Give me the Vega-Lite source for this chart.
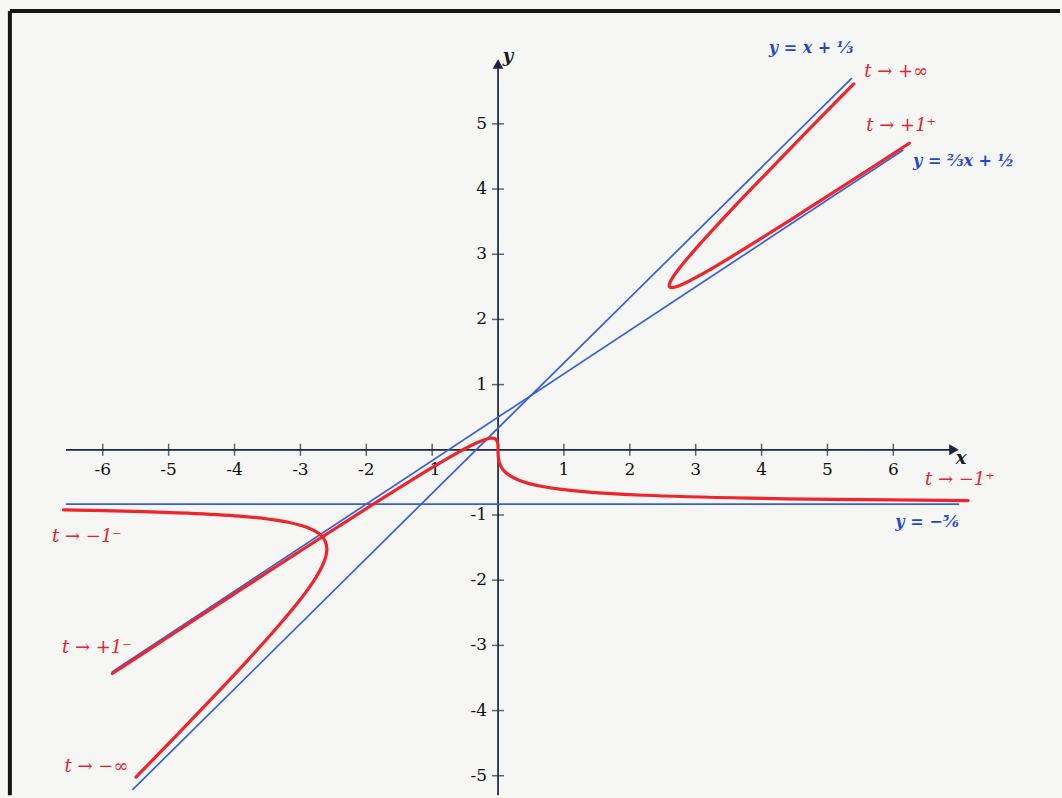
{
  "$schema": "https://vega.github.io/schema/vega-lite/v6.json",
  "width": 1062,
  "height": 798,
  "autosize": {"type": "fit", "contains": "padding"},
  "padding": 0,
  "background": "#f6f6f5",
  "config": {"view": {"stroke": null}},
  "datasets": {
    "frame": [
      {"x": -7.41, "x2": 8.53, "y": 6.73, "y2": 6.73},
      {"x": -7.41, "x2": -7.41, "y": -5.3, "y2": 6.73}
    ],
    "axes": [
      {"x": -6.56, "x2": 6.9, "y": 0, "y2": 0},
      {"x": 0, "x2": 0, "y": -5.3, "y2": 5.9}
    ],
    "arrows": [
      {"x": 6.92, "y": 0, "dir": "right"},
      {"x": 0, "y": 5.92, "dir": "up"}
    ],
    "xticks": [
      {"x": -6, "label": "-6"}, {"x": -5, "label": "-5"}, {"x": -4, "label": "-4"},
      {"x": -3, "label": "-3"}, {"x": -2, "label": "-2"}, {"x": -1, "label": "-1"},
      {"x": 1, "label": "1"}, {"x": 2, "label": "2"}, {"x": 3, "label": "3"},
      {"x": 4, "label": "4"}, {"x": 5, "label": "5"}, {"x": 6, "label": "6"}
    ],
    "yticks": [
      {"y": -5, "label": "-5"}, {"y": -4, "label": "-4"}, {"y": -3, "label": "-3"},
      {"y": -2, "label": "-2"}, {"y": -1, "label": "-1"},
      {"y": 1, "label": "1"}, {"y": 2, "label": "2"}, {"y": 3, "label": "3"},
      {"y": 4, "label": "4"}, {"y": 5, "label": "5"}
    ],
    "asymptotes": [
      {"line": "a", "x": -5.55, "y": -5.217},
      {"line": "a", "x": 5.37, "y": 5.703},
      {"line": "b", "x": -5.86, "y": -3.407},
      {"line": "b", "x": 6.15, "y": 4.6},
      {"line": "c", "x": -6.56, "y": -0.8333},
      {"line": "c", "x": 7.0, "y": -0.8333}
    ],
    "curve": [
      {"branch": 1, "t": -0.94, "x": 7.136, "y": -0.7785},
      {"branch": 1, "t": -0.92, "x": 5.07, "y": -0.7603},
      {"branch": 1, "t": -0.9, "x": 3.837, "y": -0.7421},
      {"branch": 1, "t": -0.85, "x": 2.213, "y": -0.6968},
      {"branch": 1, "t": -0.8, "x": 1.422, "y": -0.6519},
      {"branch": 1, "t": -0.75, "x": 0.9643, "y": -0.6071},
      {"branch": 1, "t": -0.7, "x": 0.6725, "y": -0.5627},
      {"branch": 1, "t": -0.65, "x": 0.4755, "y": -0.5187},
      {"branch": 1, "t": -0.6, "x": 0.3375, "y": -0.475},
      {"branch": 1, "t": -0.5, "x": 0.1667, "y": -0.3889},
      {"branch": 1, "t": -0.4, "x": 0.0762, "y": -0.3048},
      {"branch": 1, "t": -0.3, "x": 0.0297, "y": -0.2231},
      {"branch": 1, "t": -0.2, "x": 0.0083, "y": -0.1444},
      {"branch": 1, "t": -0.1, "x": 0.001, "y": -0.0697},
      {"branch": 1, "t": 0, "x": 0, "y": 0},
      {"branch": 1, "t": 0.1, "x": -0.001, "y": 0.063},
      {"branch": 1, "t": 0.2, "x": -0.0083, "y": 0.1167},
      {"branch": 1, "t": 0.3, "x": -0.0297, "y": 0.1571},
      {"branch": 1, "t": 0.35, "x": -0.0489, "y": 0.1705},
      {"branch": 1, "t": 0.4, "x": -0.0762, "y": 0.1778},
      {"branch": 1, "t": 0.45, "x": -0.1143, "y": 0.1773},
      {"branch": 1, "t": 0.5, "x": -0.1667, "y": 0.1667},
      {"branch": 1, "t": 0.55, "x": -0.2385, "y": 0.1426},
      {"branch": 1, "t": 0.6, "x": -0.3375, "y": 0.1},
      {"branch": 1, "t": 0.65, "x": -0.4755, "y": 0.031},
      {"branch": 1, "t": 0.7, "x": -0.6725, "y": -0.0778},
      {"branch": 1, "t": 0.75, "x": -0.9643, "y": -0.25},
      {"branch": 1, "t": 0.8, "x": -1.422, "y": -0.5333},
      {"branch": 1, "t": 0.85, "x": -2.213, "y": -1.0389},
      {"branch": 1, "t": 0.88, "x": -3.021, "y": -1.5644},
      {"branch": 1, "t": 0.9, "x": -3.837, "y": -2.1},
      {"branch": 1, "t": 0.91, "x": -4.384, "y": -2.4604},
      {"branch": 1, "t": 0.92, "x": -5.07, "y": -2.9133},
      {"branch": 1, "t": 0.929, "x": -5.854, "y": -3.432},
      {"branch": 2, "t": -5.3, "x": -5.496, "y": -5.02},
      {"branch": 2, "t": -5, "x": -5.208, "y": -4.722},
      {"branch": 2, "t": -4.5, "x": -4.734, "y": -4.227},
      {"branch": 2, "t": -4, "x": -4.267, "y": -3.733},
      {"branch": 2, "t": -3.5, "x": -3.811, "y": -3.241},
      {"branch": 2, "t": -3, "x": -3.375, "y": -2.75},
      {"branch": 2, "t": -2.5, "x": -2.976, "y": -2.262},
      {"branch": 2, "t": -2.2, "x": -2.773, "y": -1.971},
      {"branch": 2, "t": -2, "x": -2.667, "y": -1.778},
      {"branch": 2, "t": -1.85, "x": -2.614, "y": -1.634},
      {"branch": 2, "t": -1.732, "x": -2.598, "y": -1.521},
      {"branch": 2, "t": -1.6, "x": -2.626, "y": -1.395},
      {"branch": 2, "t": -1.5, "x": -2.7, "y": -1.3},
      {"branch": 2, "t": -1.4, "x": -2.858, "y": -1.206},
      {"branch": 2, "t": -1.3, "x": -3.184, "y": -1.112},
      {"branch": 2, "t": -1.25, "x": -3.472, "y": -1.065},
      {"branch": 2, "t": -1.2, "x": -3.927, "y": -1.018},
      {"branch": 2, "t": -1.15, "x": -4.716, "y": -0.972},
      {"branch": 2, "t": -1.12, "x": -5.523, "y": -0.944},
      {"branch": 2, "t": -1.095, "x": -6.597, "y": -0.921},
      {"branch": 3, "t": 1.102, "x": 6.242, "y": 4.703},
      {"branch": 3, "t": 1.12, "x": 5.523, "y": 4.231},
      {"branch": 3, "t": 1.15, "x": 4.716, "y": 3.706},
      {"branch": 3, "t": 1.2, "x": 3.927, "y": 3.2},
      {"branch": 3, "t": 1.25, "x": 3.472, "y": 2.917},
      {"branch": 3, "t": 1.3, "x": 3.184, "y": 2.744},
      {"branch": 3, "t": 1.4, "x": 2.858, "y": 2.567},
      {"branch": 3, "t": 1.5, "x": 2.7, "y": 2.5},
      {"branch": 3, "t": 1.577, "x": 2.638, "y": 2.488},
      {"branch": 3, "t": 1.65, "x": 2.608, "y": 2.496},
      {"branch": 3, "t": 1.732, "x": 2.598, "y": 2.521},
      {"branch": 3, "t": 1.85, "x": 2.614, "y": 2.576},
      {"branch": 3, "t": 2, "x": 2.667, "y": 2.667},
      {"branch": 3, "t": 2.2, "x": 2.773, "y": 2.811},
      {"branch": 3, "t": 2.5, "x": 2.976, "y": 3.056},
      {"branch": 3, "t": 3, "x": 3.375, "y": 3.5},
      {"branch": 3, "t": 3.5, "x": 3.811, "y": 3.967},
      {"branch": 3, "t": 4, "x": 4.267, "y": 4.444},
      {"branch": 3, "t": 4.5, "x": 4.734, "y": 4.929},
      {"branch": 3, "t": 5, "x": 5.208, "y": 5.417},
      {"branch": 3, "t": 5.2, "x": 5.4, "y": 5.613}
    ],
    "blueLabels": [
      {"x": 4.11, "y": 6.17, "text": "y = x + ⅓"},
      {"x": 6.3, "y": 4.43, "text": "y = ⅔x + ½"},
      {"x": 6.03, "y": -1.11, "text": "y = −⅚"}
    ],
    "redLabels": [
      {"x": 5.56, "y": 5.8, "text": "t → +∞"},
      {"x": 5.59, "y": 4.96, "text": "t → +1⁺"},
      {"x": 6.48, "y": -0.47, "text": "t → −1⁺"},
      {"x": -6.77, "y": -1.34, "text": "t → −1⁻"},
      {"x": -6.62, "y": -3.04, "text": "t → +1⁻"},
      {"x": -6.58, "y": -4.87, "text": "t → −∞"}
    ],
    "axisNames": [
      {"x": 7.03, "y": -0.14, "text": "x"},
      {"x": 0.15, "y": 6.02, "text": "y"}
    ]
  },
  "layer": [
    {
      "data": {"name": "frame"},
      "mark": {"type": "rule", "color": "#151515", "strokeWidth": 4},
      "encoding": {
        "x": {"field": "x", "type": "quantitative", "scale": {"domain": [-7.56, 8.53], "nice": false, "zero": false}, "axis": null},
        "x2": {"field": "x2"},
        "y": {"field": "y", "type": "quantitative", "scale": {"domain": [-5.28, 6.9], "nice": false, "zero": false}, "axis": null},
        "y2": {"field": "y2"}
      }
    },
    {
      "data": {"name": "axes"},
      "mark": {"type": "rule", "color": "#1e2340", "strokeWidth": 1.7},
      "encoding": {
        "x": {"field": "x", "type": "quantitative", "scale": {"domain": [-7.56, 8.53], "nice": false, "zero": false}, "axis": null},
        "x2": {"field": "x2"},
        "y": {"field": "y", "type": "quantitative", "scale": {"domain": [-5.28, 6.9], "nice": false, "zero": false}, "axis": null},
        "y2": {"field": "y2"}
      }
    },
    {
      "data": {"name": "arrows"},
      "mark": {"type": "point", "filled": true, "opacity": 1, "color": "#1e2340", "size": 120},
      "encoding": {
        "x": {"field": "x", "type": "quantitative", "scale": {"domain": [-7.56, 8.53], "nice": false, "zero": false}, "axis": null},
        "y": {"field": "y", "type": "quantitative", "scale": {"domain": [-5.28, 6.9], "nice": false, "zero": false}, "axis": null},
        "shape": {"field": "dir", "type": "nominal", "scale": {"domain": ["right", "up"], "range": ["triangle-right", "triangle-up"]}, "legend": null}
      }
    },
    {
      "data": {"name": "xticks"},
      "mark": {"type": "tick", "orient": "vertical", "color": "#1e2340", "size": 12, "thickness": 1.5},
      "encoding": {
        "x": {"field": "x", "type": "quantitative", "scale": {"domain": [-7.56, 8.53], "nice": false, "zero": false}, "axis": null},
        "y": {"datum": 0, "type": "quantitative", "scale": {"domain": [-5.28, 6.9], "nice": false, "zero": false}, "axis": null}
      }
    },
    {
      "data": {"name": "yticks"},
      "mark": {"type": "tick", "orient": "horizontal", "color": "#1e2340", "size": 12, "thickness": 1.5},
      "encoding": {
        "x": {"datum": 0, "type": "quantitative", "scale": {"domain": [-7.56, 8.53], "nice": false, "zero": false}, "axis": null},
        "y": {"field": "y", "type": "quantitative", "scale": {"domain": [-5.28, 6.9], "nice": false, "zero": false}, "axis": null}
      }
    },
    {
      "data": {"name": "xticks"},
      "mark": {"type": "text", "font": "DejaVu Serif", "fontSize": 17, "color": "#111111", "dy": 20, "baseline": "middle"},
      "encoding": {
        "x": {"field": "x", "type": "quantitative", "scale": {"domain": [-7.56, 8.53], "nice": false, "zero": false}, "axis": null},
        "y": {"datum": 0, "type": "quantitative", "scale": {"domain": [-5.28, 6.9], "nice": false, "zero": false}, "axis": null},
        "text": {"field": "label"}
      }
    },
    {
      "data": {"name": "yticks"},
      "mark": {"type": "text", "font": "DejaVu Serif", "fontSize": 17, "color": "#111111", "dx": -11, "align": "right", "baseline": "middle"},
      "encoding": {
        "x": {"datum": 0, "type": "quantitative", "scale": {"domain": [-7.56, 8.53], "nice": false, "zero": false}, "axis": null},
        "y": {"field": "y", "type": "quantitative", "scale": {"domain": [-5.28, 6.9], "nice": false, "zero": false}, "axis": null},
        "text": {"field": "label"}
      }
    },
    {
      "data": {"name": "asymptotes"},
      "mark": {"type": "line", "color": "#3560dc", "strokeWidth": 1.7},
      "encoding": {
        "x": {"field": "x", "type": "quantitative", "scale": {"domain": [-7.56, 8.53], "nice": false, "zero": false}, "axis": null},
        "y": {"field": "y", "type": "quantitative", "scale": {"domain": [-5.28, 6.9], "nice": false, "zero": false}, "axis": null},
        "detail": {"field": "line"}
      }
    },
    {
      "data": {"name": "curve"},
      "mark": {"type": "line", "color": "#f0242c", "strokeWidth": 3.2, "interpolate": "catmull-rom", "strokeCap": "round"},
      "encoding": {
        "x": {"field": "x", "type": "quantitative", "scale": {"domain": [-7.56, 8.53], "nice": false, "zero": false}, "axis": null},
        "y": {"field": "y", "type": "quantitative", "scale": {"domain": [-5.28, 6.9], "nice": false, "zero": false}, "axis": null},
        "detail": {"field": "branch"},
        "order": {"field": "t", "type": "quantitative"}
      }
    },
    {
      "data": {"name": "blueLabels"},
      "mark": {"type": "text", "font": "DejaVu Serif", "fontSize": 16, "fontWeight": "bold", "fontStyle": "italic", "color": "#2447d8", "align": "left", "baseline": "middle"},
      "encoding": {
        "x": {"field": "x", "type": "quantitative", "scale": {"domain": [-7.56, 8.53], "nice": false, "zero": false}, "axis": null},
        "y": {"field": "y", "type": "quantitative", "scale": {"domain": [-5.28, 6.9], "nice": false, "zero": false}, "axis": null},
        "text": {"field": "text"}
      }
    },
    {
      "data": {"name": "redLabels"},
      "mark": {"type": "text", "font": "DejaVu Serif", "fontSize": 18, "fontStyle": "italic", "color": "#e8222c", "align": "left", "baseline": "middle"},
      "encoding": {
        "x": {"field": "x", "type": "quantitative", "scale": {"domain": [-7.56, 8.53], "nice": false, "zero": false}, "axis": null},
        "y": {"field": "y", "type": "quantitative", "scale": {"domain": [-5.28, 6.9], "nice": false, "zero": false}, "axis": null},
        "text": {"field": "text"}
      }
    },
    {
      "data": {"name": "axisNames"},
      "mark": {"type": "text", "font": "DejaVu Serif", "fontSize": 18, "fontWeight": "bold", "fontStyle": "italic", "color": "#1a1a22", "align": "center", "baseline": "middle"},
      "encoding": {
        "x": {"field": "x", "type": "quantitative", "scale": {"domain": [-7.56, 8.53], "nice": false, "zero": false}, "axis": null},
        "y": {"field": "y", "type": "quantitative", "scale": {"domain": [-5.28, 6.9], "nice": false, "zero": false}, "axis": null},
        "text": {"field": "text"}
      }
    }
  ]
}
